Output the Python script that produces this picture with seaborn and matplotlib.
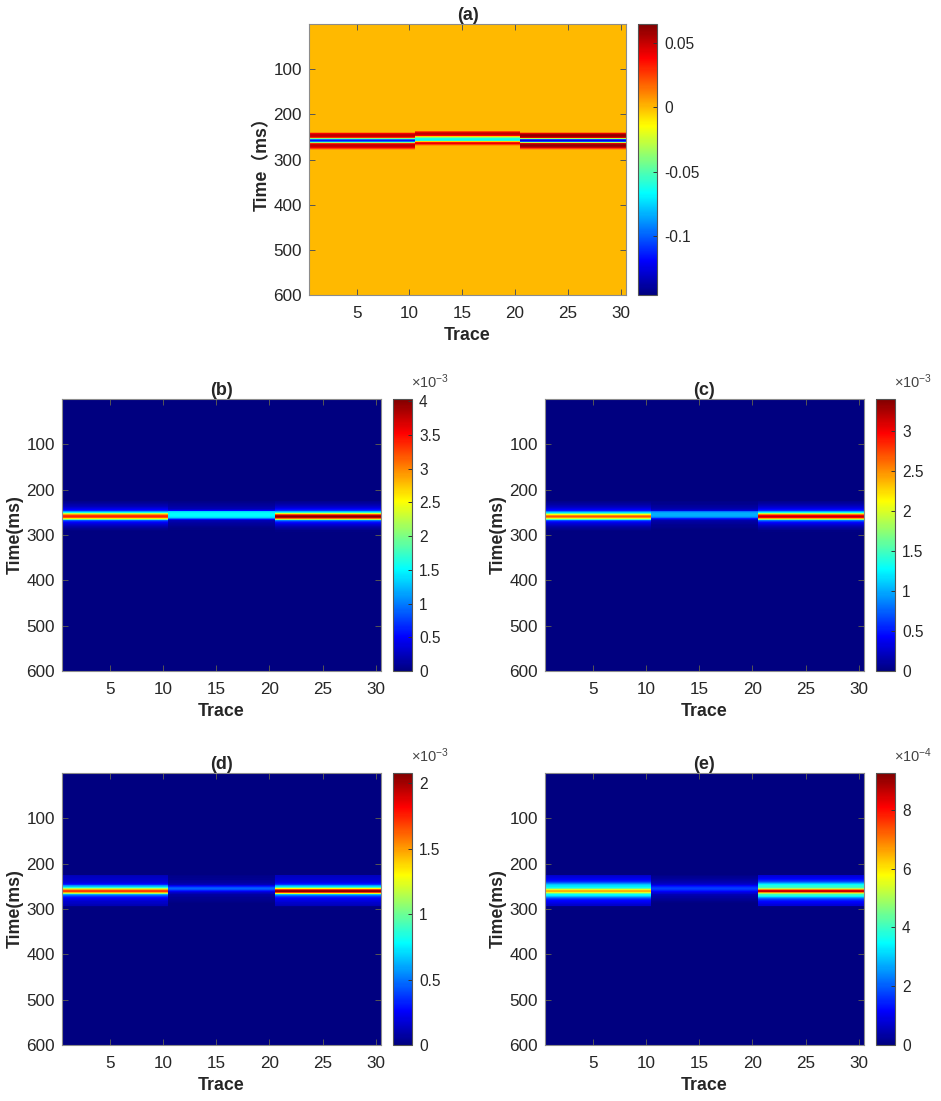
import numpy as np
import pandas as pd
import matplotlib
matplotlib.use("Agg")
import matplotlib.pyplot as plt
from matplotlib.colors import LinearSegmentedColormap
import seaborn as sns

# ---------------- data ----------------
traces = list(range(1, 31))
block_traces = [(1, 10), (11, 20), (21, 30)]
time_max_ms = 600
dt_ms = 2
stripe_time_ms = [224, 226, 228, 230, 232, 234, 236, 238, 240, 242,
                  244, 246, 248, 250, 252, 254, 256, 258, 260, 262,
                  264, 266, 268, 270, 272, 274, 276, 278, 280, 282,
                  284, 286, 288, 290, 292, 294, 296, 298]

# (a) seismic amplitude
a_block1 = [0, 0, 0, 0, 0, 0, 0, 0, 0.01, 0.04,
            0.05, 0.052, 0.048, 0.03, -0.04, -0.095, -0.115, -0.115, -0.095, -0.04,
            0.03, 0.048, 0.052, 0.05, 0.042, 0.025, 0.008, 0, 0, 0,
            0, 0, 0, 0, 0, 0, 0, 0]
a_block2 = [0, 0, 0, 0, 0, 0, 0.008, 0.025, 0.045, 0.052,
            0.05, 0.038, -0.005, -0.04, -0.06, -0.065, -0.06, -0.04, -0.005, 0.035,
            0.042, 0.025, 0.008, 0, 0, 0, 0, 0, 0, 0,
            0, 0, 0, 0, 0, 0, 0, 0]
a_block3 = [0, 0, 0, 0, 0, 0, 0, 0, 0.012, 0.045,
            0.058, 0.062, 0.058, 0.045, -0.03, -0.105, -0.125, -0.125, -0.105, -0.03,
            0.045, 0.058, 0.062, 0.058, 0.048, 0.025, 0.008, 0, 0, 0,
            0, 0, 0, 0, 0, 0, 0, 0]

# (b) x1e-3
b_block1 = [0.04, 0.06, 0.09, 0.12, 0.16, 0.2, 0.25, 0.32, 0.4, 0.5,
            0.65, 0.85, 1.15, 1.6, 2.3, 2.9, 3.3, 3.4, 3.2, 2.6,
            1.9, 1.25, 0.85, 0.62, 0.48, 0.38, 0.3, 0.24, 0.18, 0.13,
            0.09, 0.06, 0.04, 0.025, 0.015, 0.01, 0, 0]
b_block2 = [0.03, 0.04, 0.06, 0.08, 0.1, 0.12, 0.15, 0.18, 0.22, 0.3,
            0.5, 0.95, 1.35, 1.45, 1.5, 1.5, 1.5, 1.45, 1.35, 0.95,
            0.5, 0.3, 0.22, 0.18, 0.15, 0.12, 0.1, 0.08, 0.06, 0.04,
            0.03, 0.02, 0.01, 0, 0, 0, 0, 0]
b_block3 = [0.05, 0.07, 0.1, 0.14, 0.18, 0.23, 0.29, 0.36, 0.45, 0.56,
            0.72, 0.95, 1.25, 1.7, 2.4, 3.2, 3.8, 4.0, 3.8, 3.1,
            2.2, 1.5, 1.0, 0.72, 0.55, 0.43, 0.34, 0.27, 0.2, 0.15,
            0.1, 0.07, 0.05, 0.03, 0.02, 0.01, 0, 0]

# (c) x1e-3
c_block1 = [0.03, 0.05, 0.07, 0.1, 0.13, 0.17, 0.21, 0.26, 0.32, 0.4,
            0.5, 0.65, 0.85, 1.15, 1.6, 2.1, 2.5, 2.7, 2.5, 2.0,
            1.5, 1.0, 0.7, 0.5, 0.38, 0.3, 0.24, 0.19, 0.14, 0.1,
            0.07, 0.05, 0.03, 0.02, 0.01, 0, 0, 0]
c_block2 = [0.02, 0.03, 0.04, 0.05, 0.06, 0.08, 0.1, 0.12, 0.15, 0.2,
            0.3, 0.5, 0.8, 0.95, 1.0, 1.0, 1.0, 0.95, 0.8, 0.5,
            0.3, 0.2, 0.15, 0.12, 0.1, 0.08, 0.06, 0.05, 0.04, 0.03,
            0.02, 0.01, 0, 0, 0, 0, 0, 0]
c_block3 = [0.04, 0.06, 0.08, 0.11, 0.15, 0.19, 0.24, 0.3, 0.37, 0.46,
            0.58, 0.76, 1.0, 1.35, 1.9, 2.55, 3.0, 3.2, 3.0, 2.4,
            1.75, 1.2, 0.82, 0.6, 0.45, 0.35, 0.28, 0.22, 0.16, 0.12,
            0.08, 0.06, 0.04, 0.025, 0.015, 0.01, 0, 0]

# (d) x1e-3
d_block1 = [0.02, 0.12, 0.13, 0.14, 0.15, 0.16, 0.17, 0.18, 0.2, 0.25,
            0.33, 0.45, 0.55, 0.65, 0.85, 1.15, 1.45, 1.68, 1.7, 1.45,
            1.1, 0.8, 0.6, 0.45, 0.35, 0.28, 0.23, 0.2, 0.18, 0.16,
            0.15, 0.14, 0.13, 0.12, 0.11, 0.02, 0, 0]
d_block2 = [0.01, 0.02, 0.03, 0.03, 0.04, 0.04, 0.05, 0.06, 0.07, 0.09,
            0.12, 0.16, 0.22, 0.32, 0.42, 0.46, 0.42, 0.32, 0.22, 0.16,
            0.12, 0.09, 0.07, 0.06, 0.05, 0.04, 0.04, 0.03, 0.03, 0.02,
            0.01, 0, 0, 0, 0, 0, 0, 0]
d_block3 = [0.02, 0.13, 0.14, 0.15, 0.16, 0.17, 0.18, 0.2, 0.22, 0.28,
            0.36, 0.48, 0.58, 0.7, 0.95, 1.3, 1.7, 2.0, 2.05, 1.7,
            1.25, 0.9, 0.65, 0.48, 0.37, 0.3, 0.25, 0.22, 0.2, 0.18,
            0.16, 0.15, 0.14, 0.13, 0.12, 0.02, 0, 0]

# (e) x1e-4
e_block1 = [0.1, 0.7, 0.8, 0.9, 1.0, 1.1, 1.3, 1.5, 1.9, 2.4,
            2.9, 3.1, 3.2, 3.3, 3.6, 4.3, 5.5, 6.4, 6.5, 5.5,
            4.3, 3.7, 3.5, 3.3, 2.8, 2.2, 1.7, 1.4, 1.2, 1.1,
            1.0, 0.9, 0.8, 0.75, 0.7, 0.1, 0, 0]
e_block2 = [0.05, 0.1, 0.15, 0.2, 0.25, 0.3, 0.35, 0.4, 0.5, 0.6,
            0.75, 0.9, 1.1, 1.4, 1.6, 1.7, 1.6, 1.4, 1.1, 0.9,
            0.75, 0.6, 0.5, 0.4, 0.35, 0.3, 0.25, 0.2, 0.15, 0.1,
            0.05, 0, 0, 0, 0, 0, 0, 0]
e_block3 = [0.1, 0.8, 0.9, 1.0, 1.1, 1.3, 1.5, 1.8, 2.3, 2.9,
            3.4, 3.7, 3.8, 3.8, 4.1, 5.0, 6.8, 8.4, 8.6, 6.8,
            5.0, 4.2, 4.0, 3.8, 3.3, 2.6, 2.0, 1.6, 1.4, 1.2,
            1.1, 1.0, 0.9, 0.85, 0.8, 0.1, 0, 0]

panel_titles = ["(a)", "(b)", "(c)", "(d)", "(e)"]
panel_ylabels = ["Time\uff08ms\uff09", "Time(ms)", "Time(ms)", "Time(ms)", "Time(ms)"]
panel_scales = [1.0, 1e-3, 1e-3, 1e-3, 1e-4]
panel_vmin = [-0.146, 0, 0, 0, 0]
panel_vmax = [0.065, 4.03, 3.4, 2.08, 9.25]
panel_cticks = [[-0.1, -0.05, 0, 0.05],
                [0, 0.5, 1, 1.5, 2, 2.5, 3, 3.5, 4],
                [0, 0.5, 1, 1.5, 2, 2.5, 3],
                [0, 0.5, 1, 1.5, 2],
                [0, 2, 4, 6, 8]]
panel_exponents = [None, -3, -3, -3, -4]
xtick_traces = [5, 10, 15, 20, 25, 30]
ytick_times = [100, 200, 300, 400, 500, 600]

# MATLAB-style jet anchors
jet_positions = [0.0, 0.125, 0.375, 0.625, 0.875, 1.0]
jet_colors = [(0, 0, 0.5), (0, 0, 1), (0, 1, 1), (1, 1, 0), (1, 0, 0), (0.5, 0, 0)]
matlab_jet = LinearSegmentedColormap.from_list("matlab_jet", list(zip(jet_positions, jet_colors)), N=256)

# ---------------- style ----------------
plt.rcParams["font.family"] = ["Liberation Sans", "Noto Sans CJK SC", "DejaVu Sans"]
plt.rcParams["mathtext.fontset"] = "custom"
plt.rcParams["mathtext.rm"] = "Liberation Sans"
plt.rcParams["mathtext.it"] = "Liberation Sans"
plt.rcParams["mathtext.default"] = "regular"

W, H = 941, 1101
fig = plt.figure(figsize=(W / 100, H / 100), dpi=100)


def rect(x0, y0, x1, y1):
    return [x0 / W, 1 - y1 / H, (x1 - x0) / W, (y1 - y0) / H]


layout = [
    ((309, 24, 626, 295), (638, 24, 657, 295)),
    ((62, 399, 381, 671), (393, 399, 412, 671)),
    ((545, 399, 864, 671), (876, 399, 895, 671)),
    ((62, 773, 381, 1045), (393, 773, 412, 1045)),
    ((545, 773, 864, 1045), (876, 773, 895, 1045)),
]

panel_blocks = [
    [a_block1, a_block2, a_block3],
    [b_block1, b_block2, b_block3],
    [c_block1, c_block2, c_block3],
    [d_block1, d_block2, d_block3],
    [e_block1, e_block2, e_block3],
]


def build_frame(blocks, scale):
    n_rows = time_max_ms // dt_ms
    mat = np.zeros((n_rows, len(traces)))
    rows = [t // dt_ms for t in stripe_time_ms]
    for (t0, t1), vals in zip(block_traces, blocks):
        for r, v in zip(rows, vals):
            mat[r, t0 - 1:t1] = v * scale
    return pd.DataFrame(mat, index=np.arange(n_rows) * dt_ms, columns=traces)


text_col = "#262626"
for i in range(5):
    ax_r, cb_r = layout[i]
    ax = fig.add_axes(rect(*ax_r))
    cax = fig.add_axes(rect(*cb_r))
    sc = panel_scales[i]
    df = build_frame(panel_blocks[i], sc)
    sns.heatmap(df, ax=ax, cmap=matlab_jet, vmin=panel_vmin[i] * sc,
                vmax=panel_vmax[i] * sc,
                cbar_ax=cax, xticklabels=False, yticklabels=False, rasterized=True)
    ax.set_xticks([t - 0.5 for t in xtick_traces])
    ax.set_xticklabels([str(t) for t in xtick_traces])
    ax.set_yticks([t / dt_ms for t in ytick_times])
    ax.set_yticklabels([str(t) for t in ytick_times], rotation=0)
    ax.tick_params(axis="x", direction="in", length=4, width=0.7, top=True, bottom=True,
                   labelsize=12.3, color="#555555", labelcolor=text_col, pad=8)
    ax.tick_params(axis="y", direction="in", length=4, width=0.7, left=True, right=True,
                   labelsize=12.3, color="#555555", labelcolor=text_col, pad=5)
    for s in ax.spines.values():
        s.set_visible(True)
        s.set_color("#8c8c8c")
        s.set_linewidth(0.8)
    ax.set_xlabel("Trace", fontsize=12.8, fontweight="bold", color=text_col, labelpad=4)
    ax.set_ylabel(panel_ylabels[i], fontsize=12.8, fontweight="bold", color=text_col, labelpad=2)
    ax.set_title(panel_titles[i], fontsize=13, fontweight="bold", color=text_col, pad=3)

    cb = ax.collections[0].colorbar
    ticks = panel_cticks[i]
    cb.set_ticks([t * sc for t in ticks])
    cb.set_ticklabels(["%g" % t for t in ticks])
    cb.outline.set_linewidth(0.8)
    cb.outline.set_edgecolor("#555555")
    cax.tick_params(direction="in", length=3, width=0.7, right=True, left=False,
                    labelsize=11.2, color="#333333", labelcolor=text_col, pad=5)
    if panel_exponents[i] is not None:
        cax.text(0.95, 1.03, r"$\times10^{%d}$" % panel_exponents[i], transform=cax.transAxes,
                 ha="left", va="bottom", fontsize=10.5, color="#444444")

fig.savefig("out.png", dpi=100)
